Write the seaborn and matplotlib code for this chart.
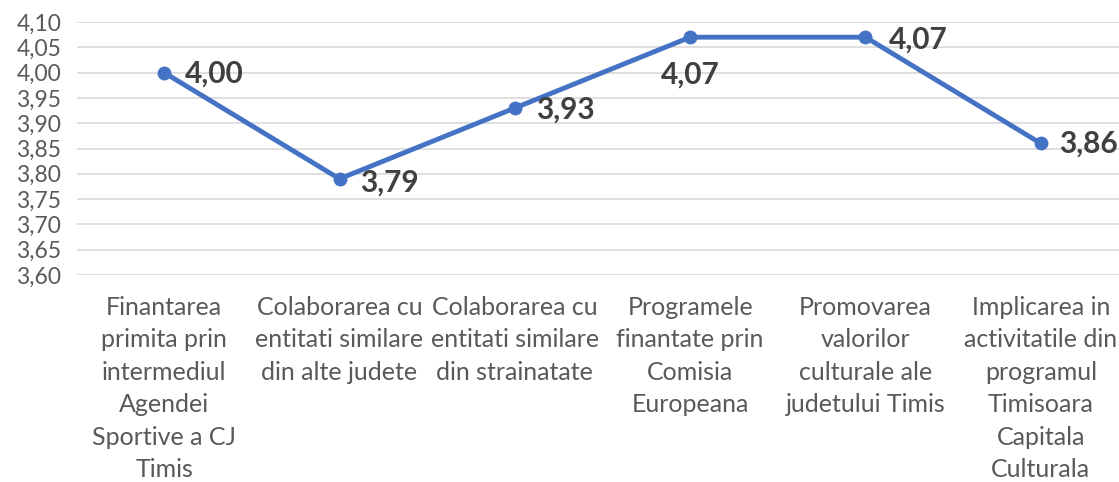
import matplotlib
matplotlib.use("Agg")
import matplotlib.pyplot as plt
import seaborn as sns
import pandas as pd

categories = [
    "Finantarea\nprimita prin\nintermediul\nAgendei\nSportive a CJ\nTimis",
    "Colaborarea cu\nentitati similare\ndin alte judete",
    "Colaborarea cu\nentitati similare\ndin strainatate",
    "Programele\nfinantate prin\nComisia\nEuropeana",
    "Promovarea\nvalorilor\nculturale ale\njudetului Timis",
    "Implicarea in\nactivitatile din\nprogramul\nTimisoara\nCapitala\nCulturala",
]
values = [4.00, 3.79, 3.93, 4.07, 4.07, 3.86]
y_ticks = [3.60, 3.65, 3.70, 3.75, 3.80, 3.85, 3.90, 3.95, 4.00, 4.05, 4.10]

sns.set_theme(style="white")
plt.rcParams["font.family"] = ["Lato", "DejaVu Sans"]

df = pd.DataFrame({"pos": range(len(values)), "value": values})

fig = plt.figure(figsize=(11.19, 4.82), dpi=100)
ax = fig.add_axes([76.5 / 1119, 1 - 275 / 482, 1052 / 1119, 253 / 482])

sns.lineplot(data=df, x="pos", y="value", ax=ax, color="#4472C4", linewidth=3.5,
             marker="o", markersize=10, markeredgewidth=0, sort=False)

ax.set_xlim(-0.5, 5.5)
ax.set_ylim(3.60, 4.10)
ax.set_yticks(y_ticks)
ax.set_yticklabels([f"{v:.2f}".replace(".", ",") for v in y_ticks])
ax.set_xticks(range(len(categories)))
ax.set_xticklabels(categories, linespacing=1.5)
ax.tick_params(axis="x", length=0, pad=15, labelsize=18, labelcolor="#595959")
ax.tick_params(axis="y", length=0, pad=11, labelsize=16.5, labelcolor="#595959")
ax.yaxis.grid(True, color="#D9D9D9", linewidth=1.2)
ax.xaxis.grid(False)
for s in ax.spines.values():
    s.set_visible(False)
ax.set_xlabel("")
ax.set_ylabel("")

# value labels: mostly to the right of the marker, one placed below
offsets = [(15, -1, "left", "center"), (15, -3, "left", "center"), (15, -1, "left", "center"),
           (0, -27, "center", "center"), (17, -2, "left", "center"), (13, 0, "left", "center")]
for i, v in enumerate(values):
    dx, dy, ha, va = offsets[i]
    ax.annotate(f"{v:.2f}".replace(".", ","), (i, v), xytext=(dx, dy),
                textcoords="offset points", ha=ha, va=va, fontsize=21.5,
                fontweight="bold", color="#404040", annotation_clip=False)

fig.savefig("out.png", dpi=100)
